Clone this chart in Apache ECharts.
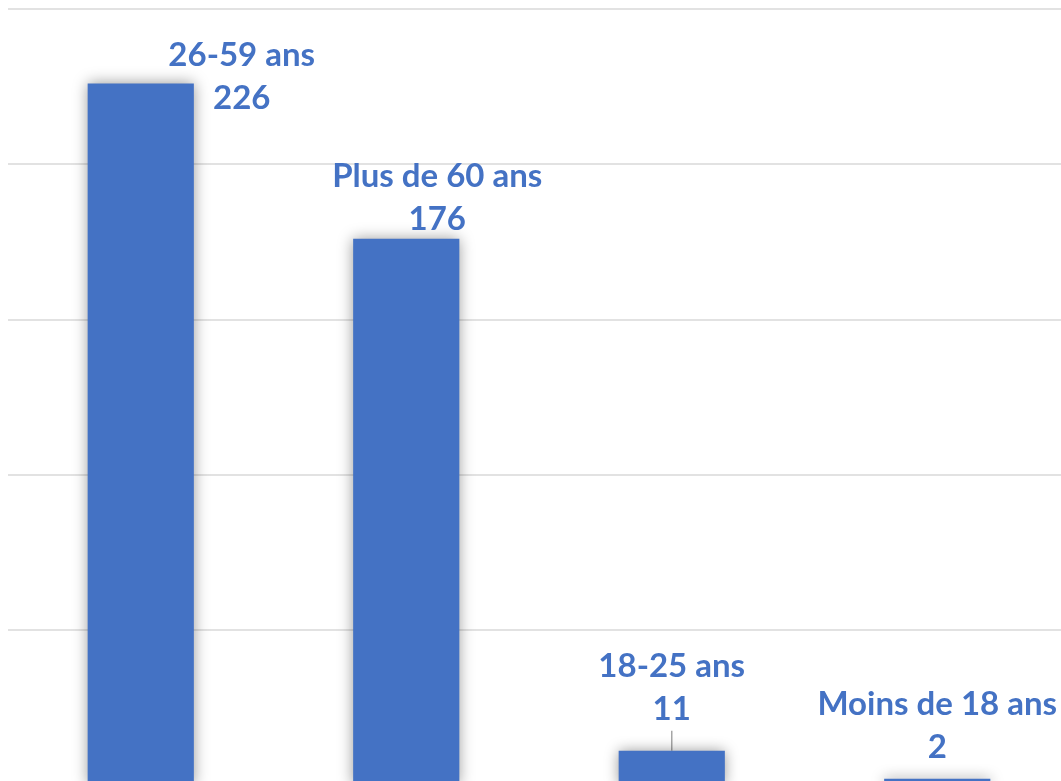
<!DOCTYPE html>
<html lang="fr">
<head>
    <meta charset="UTF-8">
    <title>Répartition par âge</title>
    <style>
        html, body { margin: 0; padding: 0; background: #fff; }
        #chart { width: 1061px; height: 781px; }
    </style>
</head>
<body>
<div id="chart"></div>
<script src="https://cdn.jsdelivr.net/npm/echarts@6/dist/echarts.min.js"></script>
<script type="text/javascript">
    var categories = ['26-59 ans', 'Plus de 60 ans', '18-25 ans', 'Moins de 18 ans'];
    var values = [226, 176, 11, 2];
    var yTicks = [0, 50, 100, 150, 200, 250];
    // label shifts (excel labels were moved by hand)
    var labelDx = [101, 31, 0, 0];
    var labelDy = [36, 2, -20, -10];
    var showLeader = [false, false, true, false];

    var blue = '#4472C4';

    var data = [];
    for (var i = 0; i < values.length; i++) {
        data.push({
            value: values[i],
            labelLine: { show: showLeader[i] }
        });
    }

    var myChart = echarts.init(document.getElementById('chart'));
    var option = {
        animation: false,
        grid: {
            left: 8,
            right: -9,
            top: 9,
            bottom: -4,
            outerBoundsMode: 'none'
        },
        xAxis: {
            type: 'category',
            data: categories,
            axisLine: { show: false },
            axisTick: { show: false },
            axisLabel: { show: false }
        },
        yAxis: {
            type: 'value',
            min: yTicks[0],
            max: yTicks[yTicks.length - 1],
            interval: 50,
            axisLine: { show: false },
            axisTick: { show: false },
            axisLabel: { show: false },
            splitLine: {
                lineStyle: { color: '#d9d9d9', width: 1.5 }
            }
        },
        series: [{
            type: 'bar',
            barWidth: '40%',
            data: data,
            itemStyle: {
                color: blue,
                shadowColor: 'rgba(0, 0, 0, 0.4)',
                shadowBlur: 14
            },
            label: {
                show: true,
                position: 'top',
                distance: 0,
                formatter: '{b}\n{c}',
                color: blue,
                fontFamily: 'Lato',
                fontWeight: 'bold',
                fontSize: 33,
                lineHeight: 43,
                align: 'center'
            },
            labelLine: {
                show: false,
                lineStyle: { color: '#a6a6a6', width: 1.5 }
            },
            labelLayout: function (params) {
                return {
                    dx: labelDx[params.dataIndex],
                    dy: labelDy[params.dataIndex]
                };
            }
        }]
    };
    myChart.setOption(option);
</script>
</body>
</html>
